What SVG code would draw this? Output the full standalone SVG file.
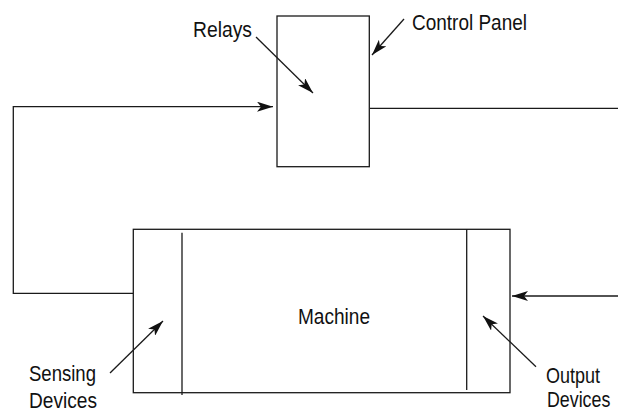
<svg xmlns="http://www.w3.org/2000/svg" width="618" height="411" viewBox="0 0 618 411">
<defs>
<marker id="arr" viewBox="0 0 16 10" refX="16" refY="5" markerWidth="16" markerHeight="10" markerUnits="userSpaceOnUse" orient="auto">
<path d="M0,0 L16,5 L0,10 L4,5 z" fill="#111"/>
</marker>
<style>
.ln{fill:none;stroke:#1a1a1a;stroke-width:1.3}
.box{fill:#fff;stroke:#1a1a1a;stroke-width:1.3}
.lbl{font-family:"Liberation Sans",Arial,sans-serif;font-size:22px;fill:#111}
</style>
</defs>
<rect width="618" height="411" fill="#fff"/>
<g id="connectors">
<polyline class="ln" points="133,293.3 13.3,293.3 13.3,106.7 273,106.7" marker-end="url(#arr)"/>
<line class="ln" x1="370" y1="108.3" x2="618" y2="108.3"/>
<line class="ln" x1="618" y1="296" x2="512" y2="296" marker-end="url(#arr)"/>
</g>
<g id="control-panel">
<rect class="box" x="277" y="16" width="92.3" height="150.7"/>
</g>
<g id="machine">
<rect class="box" x="133.3" y="229.3" width="376.7" height="163.4"/>
<line class="ln" x1="182" y1="232.7" x2="182" y2="395"/>
<line class="ln" x1="466.7" y1="229.3" x2="466.7" y2="390"/>
<text class="lbl" x="298" y="324" textLength="72" lengthAdjust="spacingAndGlyphs">Machine</text>
</g>
<g id="label-relays">
<text class="lbl" x="193" y="37" textLength="59" lengthAdjust="spacingAndGlyphs">Relays</text>
<line class="ln" x1="256" y1="37" x2="313" y2="93" marker-end="url(#arr)"/>
</g>
<g id="label-control-panel">
<text class="lbl" x="412" y="29.5" textLength="115" lengthAdjust="spacingAndGlyphs">Control Panel</text>
<line class="ln" x1="404" y1="19" x2="372" y2="55" marker-end="url(#arr)"/>
</g>
<g id="label-sensing">
<text class="lbl" x="29" y="381" textLength="67" lengthAdjust="spacingAndGlyphs">Sensing</text>
<text class="lbl" x="29" y="407.5" textLength="68" lengthAdjust="spacingAndGlyphs">Devices</text>
<line class="ln" x1="110" y1="373" x2="163" y2="321" marker-end="url(#arr)"/>
</g>
<g id="label-output">
<text class="lbl" x="546" y="383" textLength="54" lengthAdjust="spacingAndGlyphs">Output</text>
<text class="lbl" transform="translate(547,407.3) scale(0.81,1)" x="0" y="0">Devices</text>
<line class="ln" x1="536" y1="366.7" x2="483" y2="316" marker-end="url(#arr)"/>
</g>
</svg>
